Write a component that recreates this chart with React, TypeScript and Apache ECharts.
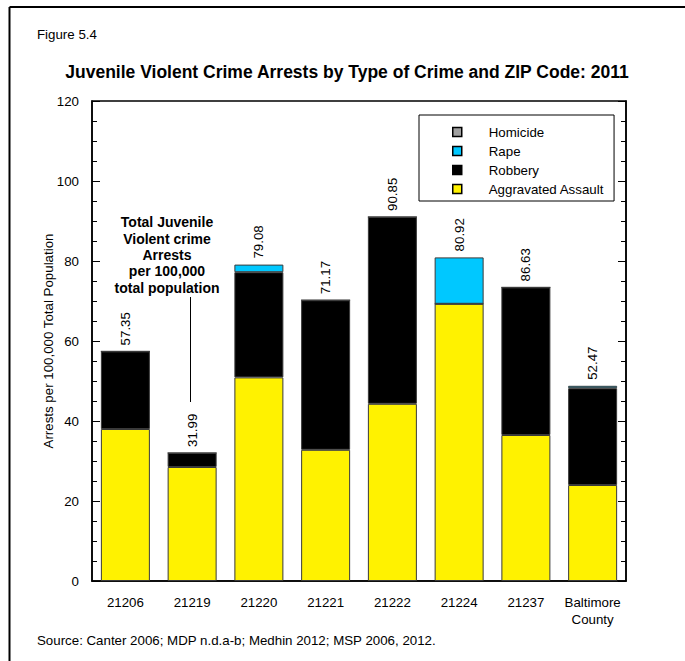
import React, { useEffect, useRef } from "react";
import * as echarts from "echarts";

const categories = ["21206", "21219", "21220", "21221", "21222", "21224", "21237", "Baltimore\nCounty"];
const assault = [38.0, 28.5, 50.9, 32.8, 44.3, 69.3, 36.5, 24.0];
const robbery = [19.4, 3.5, 26.3, 37.4, 46.7, 0, 36.9, 24.2];
const rape = [0, 0, 1.9, 0, 0, 11.6, 0, 0.6];
const homicide = [0, 0, 0, 0, 0, 0, 0, 0];
const totalLabels = ["57.35", "31.99", "79.08", "71.17", "90.85", "80.92", "86.63", "52.47"];
const yTicks = [0, 20, 40, 60, 80, 100, 120];

const FONT = "'Liberation Sans', Arial, sans-serif";
const FS = 13.3;

export default function App() {
  const ref = useRef<HTMLDivElement>(null);
  useEffect(() => {
    if (!ref.current) return;
    const chart = echarts.init(ref.current, null, { renderer: "svg" });
    const yMin = yTicks[0];
    const yMax = yTicks[yTicks.length - 1];
    const yInt = yTicks[1] - yTicks[0];
    const border = { borderColor: "#3a3a3a", borderWidth: 1 };
    const yAxisBase = {
      type: "value",
      min: yMin,
      max: yMax,
      interval: yInt,
      splitLine: { show: false },
      axisLine: { show: true, lineStyle: { color: "#000", width: 1.5 } },
      axisTick: { show: true, inside: true, length: 8, lineStyle: { color: "#000", width: 1 } },
      minorTick: { show: true, splitNumber: 4, length: 5, lineStyle: { color: "#000", width: 1 } },
    };
    chart.setOption({
      animation: false,
      textStyle: { fontFamily: FONT },
      grid: { left: 92, top: 101, right: 59, bottom: 80, show: true, borderColor: "#000", borderWidth: 1.5 },
      legend: {
        orient: "vertical",
        left: 419,
        top: 115,
        itemWidth: 9,
        itemHeight: 9,
        itemGap: 5,
        padding: [10, 10, 5, 33],
        borderColor: "#000",
        borderWidth: 1,
        icon: "rect",
        itemStyle: { borderColor: "#000", borderWidth: 1.5 },
        textStyle: { fontSize: FS, color: "#000", fontFamily: FONT, padding: [0, 0, 0, 22], lineHeight: 14 },
        data: ["Homicide", "Rape", "Robbery", "Aggravated Assault"],
      },
      xAxis: {
        type: "category",
        data: categories,
        axisLine: { show: true, lineStyle: { color: "#000", width: 1.5 } },
        axisTick: { show: false },
        axisLabel: { color: "#000", fontSize: FS, margin: 13, lineHeight: 17, fontFamily: FONT, interval: 0, hideOverlap: false },
      },
      yAxis: [
        {
          ...yAxisBase,
          position: "left",
          name: "Arrests per 100,000 Total Population",
          nameLocation: "middle",
          nameGap: 37,
          nameMoveOverlap: false,
          nameTextStyle: { color: "#000", fontSize: FS, fontFamily: FONT },
          axisLabel: { color: "#000", fontSize: FS, margin: 13, fontFamily: FONT },
        },
        {
          ...yAxisBase,
          position: "right",
          axisLabel: { show: false },
        },
      ],
      series: [
        {
          name: "Aggravated Assault",
          type: "bar",
          stack: "a",
          barWidth: 49,
          data: assault,
          itemStyle: { color: "#FFF200", ...border },
        },
        {
          name: "Robbery",
          type: "bar",
          stack: "a",
          data: robbery,
          itemStyle: { color: "#000000", ...border },
        },
        {
          name: "Rape",
          type: "bar",
          stack: "a",
          data: rape,
          itemStyle: { color: "#00C8FF", ...border },
        },
        {
          name: "Homicide",
          type: "bar",
          stack: "a",
          data: homicide,
          itemStyle: { color: "#A0A0A0", borderColor: "#3a3a3a", borderWidth: 0 },
        },
        {
          name: "Total",
          type: "bar",
          stack: "a",
          data: homicide.map(() => 0),
          itemStyle: { color: "transparent", borderWidth: 0 },
          label: {
            show: true,
            position: "top",
            distance: 6,
            rotate: 90,
            align: "left",
            verticalAlign: "middle",
            fontSize: FS,
            color: "#000",
            fontFamily: FONT,
            formatter: (p: any) => totalLabels[p.dataIndex],
          },
        },
      ],
      graphic: [
        { type: "line", shape: { x1: 9.5, y1: 7, x2: 685, y2: 7 }, style: { stroke: "#000", lineWidth: 2 } },
        { type: "line", shape: { x1: 9.5, y1: 7, x2: 9.5, y2: 661 }, style: { stroke: "#000", lineWidth: 2 } },
        { type: "text", x: 37, y: 34, style: { text: "Figure 5.4", font: `${FS}px ${FONT}`, fill: "#000", verticalAlign: "middle" } },
        {
          type: "text",
          x: 347,
          y: 72,
          style: { text: "Juvenile Violent Crime Arrests by Type of Crime and ZIP Code: 2011", font: `bold 17.5px ${FONT}`, fill: "#000", align: "center", verticalAlign: "middle" },
        },
        {
          type: "text",
          x: 167,
          y: 255,
          style: {
            text: "Total Juvenile\nViolent crime\nArrests\nper 100,000\ntotal population",
            font: `bold 14px ${FONT}`,
            lineHeight: 16.4,
            fill: "#000",
            align: "center",
            verticalAlign: "middle",
          },
        },
        { type: "line", shape: { x1: 190.5, y1: 297, x2: 190.5, y2: 402 }, style: { stroke: "#000", lineWidth: 1 } },
        {
          type: "text",
          x: 37,
          y: 640,
          style: { text: "Source: Canter 2006; MDP n.d.a-b; Medhin 2012; MSP 2006, 2012.", font: `${FS}px ${FONT}`, fill: "#000", verticalAlign: "middle" },
        },
      ],
    });
    return () => chart.dispose();
  }, []);
  return <div ref={ref} style={{ position: "fixed", left: 0, top: 0, width: 685, height: 661, background: "#fff" }} />;
}
